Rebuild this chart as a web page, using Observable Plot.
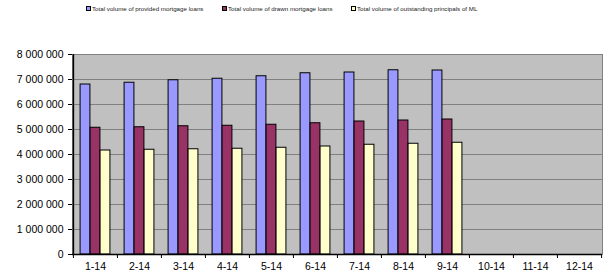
<!DOCTYPE html>
<html>
<head>
<meta charset="utf-8">
<script src="https://cdn.jsdelivr.net/npm/d3@7"></script>
<script src="https://cdn.jsdelivr.net/npm/@observablehq/plot@0.6"></script>
<style>
  body { margin: 0; background: #fff; font-family: "Liberation Sans", Arial, sans-serif; }
  #legend { height: 20px; position: relative; font-size: 6.2px; color: #222; }
  #legend .item { position: absolute; top: 5px; display: flex; align-items: center; white-space: nowrap; }
  #legend .sw { width: 3px; height: 3px; border: 1px solid #000; margin-right: 1px; }
  svg { display: block; }
</style>
</head>
<body>
<div id="legend"></div>
<div id="chart"></div>
<script>
const months = ["1-14","2-14","3-14","4-14","5-14","6-14","7-14","8-14","9-14","10-14","11-14","12-14"];
const seriesNames = [
  "Total volume of provided mortgage loans",
  "Total volume of drawn mortgage loans",
  "Total volume of outstanding principals of ML"
];
const provided = [6800000, 6870000, 6970000, 7030000, 7130000, 7250000, 7280000, 7370000, 7360000, null, null, null];
const drawn = [5070000, 5090000, 5130000, 5150000, 5190000, 5250000, 5320000, 5360000, 5400000, null, null, null];
const outstanding = [4160000, 4190000, 4210000, 4230000, 4270000, 4320000, 4390000, 4430000, 4470000, null, null, null];
const colors = ["#9999FF", "#993366", "#FFFFCC"];
const yTicks = [0, 1000000, 2000000, 3000000, 4000000, 5000000, 6000000, 7000000, 8000000];

const legendX = [86, 222, 351];
const legend = document.getElementById("legend");
seriesNames.forEach((name, i) => {
  const it = document.createElement("div");
  it.className = "item";
  it.style.left = legendX[i] + "px";
  const sw = document.createElement("span");
  sw.className = "sw";
  sw.style.background = colors[i];
  it.appendChild(sw);
  it.appendChild(document.createTextNode(name));
  legend.appendChild(it);
});

const rows = months.map((m, i) => ({month: m, provided: provided[i], drawn: drawn[i], outstanding: outstanding[i]}));
const W = 611, ML = 72, MR = 9;
const bw = (W - ML - MR) / months.length;
const barW = 10;
const inset = (bw - barW) / 2;
const barStyle = {stroke: "#000", strokeWidth: 1, insetLeft: inset, insetRight: inset};

const chart = Plot.plot({
  width: W,
  height: 256,
  marginLeft: ML,
  marginRight: MR,
  marginTop: 34,
  marginBottom: 22,
  style: {fontFamily: "Liberation Sans, Arial, sans-serif", fontSize: "10.5px", color: "#000", background: "#fff"},
  x: {domain: months, padding: 0, tickSize: 0, tickPadding: 8, label: null, line: false},
  y: {domain: [0, 8000000], ticks: yTicks, tickSize: 4, tickPadding: 5, label: null,
      tickFormat: d => d3.format(",")(d).replace(/,/g, " ")},
  marks: [
    Plot.frame({fill: "#C0C0C0", stroke: "#808080"}),
    Plot.ruleY(yTicks.slice(1), {stroke: "#808080", strokeWidth: 1}),
    Plot.barY(rows.filter(d => d.provided != null), {x: "month", y: "provided", fill: colors[0], dx: -barW, ...barStyle}),
    Plot.barY(rows.filter(d => d.drawn != null), {x: "month", y: "drawn", fill: colors[1], dx: 0, ...barStyle}),
    Plot.barY(rows.filter(d => d.outstanding != null), {x: "month", y: "outstanding", fill: colors[2], dx: barW, ...barStyle}),
    Plot.ruleY([0], {stroke: "#000", strokeWidth: 1.5}),
    Plot.ruleX([months[0]], {x: d => d, dx: -bw / 2, y1: 0, y2: 8000000, stroke: "#000", strokeWidth: 1.5}),
    Plot.ruleX(months, {x: d => d, dx: -bw / 2, y1: 0, y2: 0, insetBottom: -4, stroke: "#000"}),
    Plot.ruleX([months[months.length - 1]], {x: d => d, dx: bw / 2, y1: 0, y2: 0, insetBottom: -4, stroke: "#000"})
  ]
});
document.getElementById("chart").appendChild(chart);
</script>
</body>
</html>
